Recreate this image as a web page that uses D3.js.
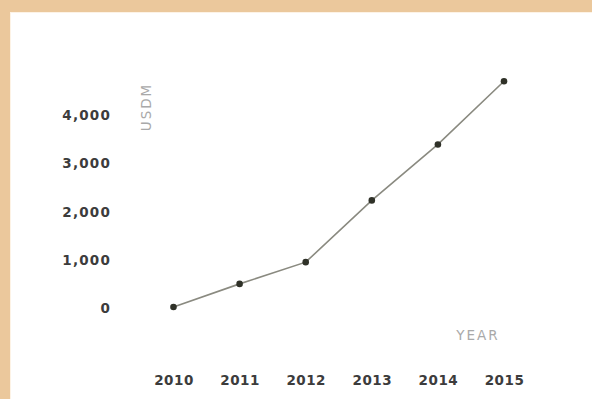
<!DOCTYPE html>
<html><head><meta charset="utf-8">
<script src="https://cdn.jsdelivr.net/npm/d3@7"></script>
<style>
html,body{margin:0;padding:0;background:#fff;}
svg{display:block;}
</style></head>
<body>
<script>
const years = [2010, 2011, 2012, 2013, 2014, 2015];
const values = [20, 500, 950, 2230, 3390, 4700];
const yTicks = [0, 1000, 2000, 3000, 4000];
const yLabel = "USDM";
const xLabel = "YEAR";

const W = 592, H = 399;
const svg = d3.select("body").append("svg").attr("width", W).attr("height", H);

// frame
svg.append("rect").attr("x",0).attr("y",0).attr("width",W).attr("height",H).attr("fill","#EBC89C");
svg.append("rect").attr("x",10).attr("y",12).attr("width",W-10).attr("height",H-12).attr("fill","#FDF3E6");
svg.append("rect").attr("x",11).attr("y",13).attr("width",W-11).attr("height",H-13).attr("fill","#ffffff");

const x = d3.scalePoint().domain(years).range([173.5, 504]);
const y = d3.scaleLinear().domain([0, 4000]).range([308, 115]);

const font = "'DejaVu Sans', sans-serif";

// y axis
const ya = svg.append("g").attr("transform","translate(111,0)")
  .call(d3.axisLeft(y).tickValues(yTicks).tickSize(0).tickPadding(0).tickFormat(d3.format(",")));
ya.select(".domain").remove();
ya.selectAll("text").attr("font-family",font).attr("font-size",13.5).attr("font-weight","bold")
  .attr("letter-spacing",1.2).attr("fill","#3c3c3c").attr("dy","0.35em");

// x axis
const xa = svg.append("g").attr("transform","translate(0,375)")
  .call(d3.axisBottom(x).tickSize(0).tickPadding(0).tickFormat(d3.format("d")));
xa.select(".domain").remove();
xa.selectAll("text").attr("font-family",font).attr("font-size",13.5).attr("font-weight","bold")
  .attr("letter-spacing",0.5).attr("fill","#3c3c3c").attr("dy","0.71em");

// axis titles
svg.append("text").attr("transform","translate(151,107) rotate(-90)")
  .attr("text-anchor","middle").attr("font-family",font).attr("font-size",13.5)
  .attr("letter-spacing",2).attr("fill","#a9a9a9").text(yLabel);
svg.append("text").attr("x",478).attr("y",340)
  .attr("text-anchor","middle").attr("font-family",font).attr("font-size",13.5)
  .attr("letter-spacing",2).attr("fill","#a9a9a9").text(xLabel);

const data = years.map((yr,i)=>({yr, v: values[i]}));
svg.append("path").datum(data)
  .attr("d", d3.line().x(d=>x(d.yr)).y(d=>y(d.v)))
  .attr("fill","none").attr("stroke","#8a8a80").attr("stroke-width",1.6);
svg.selectAll("circle.pt").data(data).join("circle").attr("class","pt")
  .attr("cx",d=>x(d.yr)).attr("cy",d=>y(d.v)).attr("r",3.3).attr("fill","#2f3128");
</script>
</body></html>
